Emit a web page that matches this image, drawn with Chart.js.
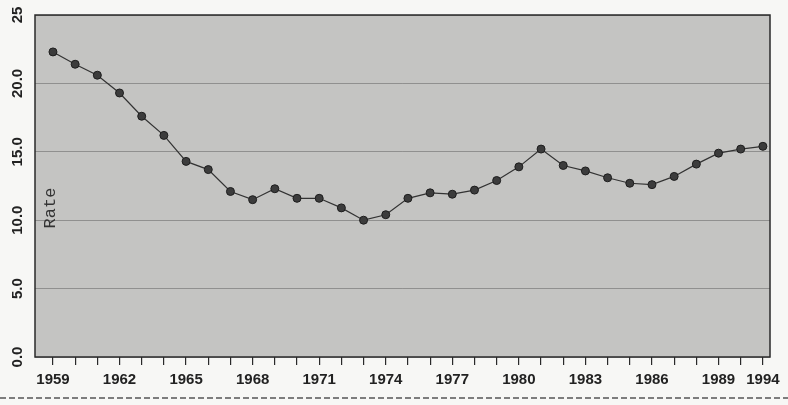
<!DOCTYPE html>
<html>
<head>
<meta charset="utf-8">
<script src="https://cdn.jsdelivr.net/npm/chart.js@4.4.1/dist/chart.umd.min.js"></script>
<style>
  html, body { margin: 0; padding: 0; background: #f7f7f5; }
  #wrap { width: 788px; height: 405px; }
</style>
</head>
<body>
<div id="wrap"><canvas id="myChart" width="788" height="405"></canvas></div>
<script>
// data
var years = [1959, 1960, 1961, 1962, 1963, 1964, 1965, 1966, 1967, 1968, 1969,
             1970, 1971, 1972, 1973, 1974, 1975, 1976, 1977, 1978, 1979, 1980,
             1981, 1982, 1983, 1984, 1985, 1986, 1987, 1988, 1989, 1990, 1991];
var rates = [22.3, 21.4, 20.6, 19.3, 17.6, 16.2, 14.3, 13.7, 12.1, 11.5, 12.3,
             11.6, 11.6, 10.9, 10.0, 10.4, 11.6, 12.0, 11.9, 12.2, 12.9, 13.9,
             15.2, 14.0, 13.6, 13.1, 12.7, 12.6, 13.2, 14.1, 14.9, 15.2, 15.4];
var xTickYears = [1959, 1962, 1965, 1968, 1971, 1974, 1977, 1980, 1983, 1986, 1989, 1991];
var xTickLabels = ["1959", "1962", "1965", "1968", "1971", "1974", "1977", "1980", "1983", "1986", "1989", "1994"];
var yTickValues = [0, 5, 10, 15, 20, 25];
var yTickLabels = ["0.0", "5.0", "10.0", "15.0", "20.0", "25"];
var yTitle = "Rate";

var points = [];
for (var i = 0; i < years.length; i++) {
  points.push({ x: years[i], y: rates[i] });
}

var paper = {
  id: "paper",
  beforeDraw: function (chart) {
    var a = chart.chartArea, ctx = chart.ctx;
    ctx.save();
    ctx.fillStyle = "#c4c4c2";
    ctx.fillRect(a.left, a.top, a.right - a.left, a.bottom - a.top);
    ctx.restore();
  },
  afterDraw: function (chart) {
    var a = chart.chartArea, ctx = chart.ctx;
    ctx.save();
    ctx.strokeStyle = "#2a2a2a";
    ctx.lineWidth = 1.5;
    ctx.strokeRect(a.left, a.top, a.right - a.left, a.bottom - a.top);
    // axis title sits inside the plot
    ctx.translate(a.left + 15, 208);
    ctx.rotate(-Math.PI / 2);
    ctx.fillStyle = "#333";
    ctx.font = "17px 'Liberation Mono'";
    ctx.textAlign = "center";
    ctx.textBaseline = "middle";
    ctx.fillText(yTitle, 0, 0);
    ctx.restore();
    // dashed rule at the page bottom
    ctx.save();
    ctx.strokeStyle = "#555";
    ctx.lineWidth = 1.5;
    ctx.setLineDash([6, 3]);
    ctx.beginPath();
    ctx.moveTo(0, 398);
    ctx.lineTo(788, 398);
    ctx.stroke();
    ctx.restore();
  }
};

new Chart("myChart", {
  type: "line",
  data: {
    datasets: [
      {
        data: points,
        borderColor: "#333",
        borderWidth: 1.2,
        pointRadius: 4,
        pointBackgroundColor: "#3c3c3c",
        pointBorderColor: "#1e1e1e",
        pointBorderWidth: 1,
        tension: 0,
      },
    ],
  },
  options: {
    responsive: false,
    animation: false,
    layout: { padding: { top: 15, right: 18, left: 0, bottom: 0 } },
    plugins: { legend: { display: false }, tooltip: { enabled: false } },
    scales: {
      x: {
        type: "linear",
        min: 1958.19,
        max: 1991.32,
        afterBuildTicks: function (s) {
          var t = [];
          for (var y = 1959; y <= 1991; y++) t.push({ value: y });
          s.ticks = t;
        },
        afterFit: function (s) { s.height = 48; },
        grid: { drawOnChartArea: false, drawTicks: true, tickLength: 8, color: "#2a2a2a", lineWidth: 1.2 },
        border: { display: false },
        ticks: {
          autoSkip: false,
          maxRotation: 0,
          padding: 6,
          color: "#222",
          font: { family: "'Liberation Sans'", size: 15, weight: "bold" },
          callback: function (v) {
            var k = xTickYears.indexOf(v);
            return k >= 0 ? xTickLabels[k] : "";
          },
        },
      },
      y: {
        min: 0,
        max: 25,
        afterBuildTicks: function (s) {
          s.ticks = yTickValues.map(function (v) { return { value: v }; });
        },
        afterFit: function (s) { s.width = 35; },
        grid: { drawTicks: false, color: "rgba(50,50,50,0.35)", lineWidth: 1 },
        border: { display: false },
        ticks: {
          minRotation: 90,
          maxRotation: 90,
          crossAlign: "center",
          padding: 3,
          color: "#222",
          font: { family: "'Liberation Sans'", size: 15, weight: "bold" },
          callback: function (v) {
            var k = yTickValues.indexOf(v);
            return k >= 0 ? yTickLabels[k] : "";
          },
        },
      },
    },
  },
  plugins: [paper],
});
</script>
</body>
</html>
